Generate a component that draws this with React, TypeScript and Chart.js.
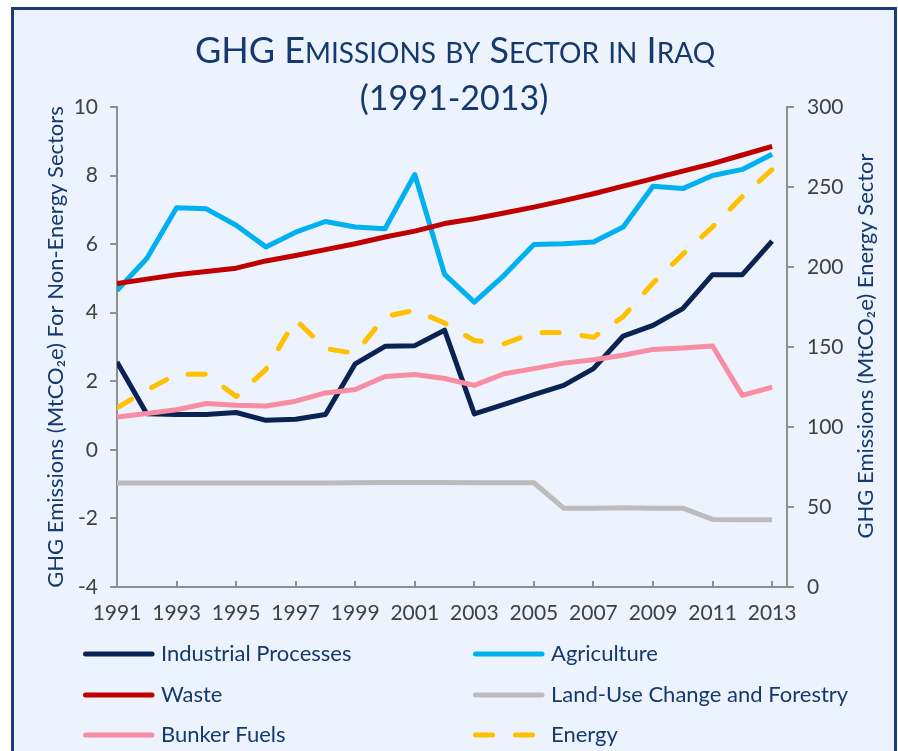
import React, { useEffect, useRef } from 'react';
import { Chart, registerables } from 'chart.js';

Chart.register(...registerables);

// ---------- data ----------
const years = [1991, 1992, 1993, 1994, 1995, 1996, 1997, 1998, 1999, 2000, 2001, 2002, 2003, 2004, 2005, 2006, 2007, 2008, 2009, 2010, 2011, 2012, 2013];
const xTickYears = [1991, 1993, 1995, 1997, 1999, 2001, 2003, 2005, 2007, 2009, 2011, 2013];

const industrialProcesses = [2.56, 1.05, 1.03, 1.03, 1.09, 0.86, 0.89, 1.03, 2.51, 3.02, 3.04, 3.49, 1.05, 1.33, 1.61, 1.88, 2.37, 3.32, 3.63, 4.12, 5.11, 5.11, 6.09];
const agriculture = [4.65, 5.58, 7.06, 7.03, 6.55, 5.92, 6.35, 6.66, 6.5, 6.45, 8.03, 5.12, 4.31, 5.09, 5.99, 6.01, 6.06, 6.5, 7.69, 7.62, 8.0, 8.18, 8.62];
const waste = [4.85, 4.98, 5.11, 5.2, 5.3, 5.51, 5.67, 5.84, 6.01, 6.21, 6.38, 6.6, 6.74, 6.91, 7.08, 7.27, 7.47, 7.69, 7.91, 8.13, 8.35, 8.6, 8.85];
const landUseChange = [-0.97, -0.97, -0.97, -0.97, -0.97, -0.97, -0.97, -0.97, -0.96, -0.95, -0.95, -0.95, -0.96, -0.96, -0.96, -1.7, -1.7, -1.69, -1.7, -1.7, -2.03, -2.04, -2.04];
const bunkerFuels = [0.96, 1.06, 1.17, 1.35, 1.3, 1.28, 1.42, 1.66, 1.76, 2.14, 2.2, 2.08, 1.88, 2.22, 2.37, 2.53, 2.63, 2.76, 2.93, 2.97, 3.03, 1.59, 1.83];
const energy = [112, 123, 133, 133, 119, 136, 167, 149, 146, 169, 173, 165, 154, 152, 159, 159, 156, 169, 190, 208, 225, 244, 261];

const leftTitle = 'GHG Emissions (MtCO\u2082e) For Non-Energy Sectors';
const rightTitle = 'GHG Emissions (MtCO\u2082e) Energy Sector';
const titleLine2 = '(1991-2013)';

// ---------- style ----------
const FONT = 'Lato, "Open Sans", sans-serif';
const NAVY = '#15386F';
const TICK = '#404040';
const AXIS = '#8F8F8F';

const seriesDefs = [
  { label: 'Industrial Processes', data: industrialProcesses, color: '#0B2352', axis: 'y', dash: [] as number[] },
  { label: 'Agriculture', data: agriculture, color: '#00B0F0', axis: 'y', dash: [] as number[] },
  { label: 'Waste', data: waste, color: '#C00000', axis: 'y', dash: [] as number[] },
  { label: 'Land-Use Change and Forestry', data: landUseChange, color: '#BDBBBB', axis: 'y', dash: [] as number[] },
  { label: 'Bunker Fuels', data: bunkerFuels, color: '#F78CA2', axis: 'y', dash: [] as number[] },
  { label: 'Energy', data: energy, color: '#FFC000', axis: 'y2', dash: [17, 23] },
];

const decorPlugin = {
  id: 'decor',
  beforeDraw(chart: any) {
    const ctx = chart.ctx;
    ctx.save();
    ctx.fillStyle = '#ffffff';
    ctx.fillRect(0, 0, chart.width, chart.height);
    ctx.fillStyle = '#ECF3FC';
    ctx.fillRect(12, 8, 884, 800);
    ctx.strokeStyle = '#1B3C78';
    ctx.lineWidth = 3;
    ctx.strokeRect(12.5, 8.5, 883, 800);
    ctx.restore();
  },
  afterDraw(chart: any) {
    const ctx = chart.ctx;
    ctx.save();
    // title with small caps
    const big = `36px ${FONT}`;
    const small = `28px ${FONT}`;
    const parts: [string, string][] = [
      ['GHG', big], [' ', big], ['E', big], ['MISSIONS', small], [' ', big], ['BY', small], [' ', big],
      ['S', big], ['ECTOR', small], [' ', big], ['IN', small], [' ', big], ['I', big], ['RAQ', small],
    ];
    let total = 0;
    const widths = parts.map(([t, f]) => { ctx.font = f; const w = ctx.measureText(t).width; total += w; return w; });
    let x = 455 - total / 2;
    ctx.fillStyle = NAVY;
    ctx.textBaseline = 'alphabetic';
    ctx.textAlign = 'left';
    parts.forEach(([t, f], i) => { ctx.font = f; ctx.fillText(t, x, 63); x += widths[i]; });
    ctx.font = `34px ${FONT}`;
    ctx.textAlign = 'center';
    ctx.fillText(titleLine2, 454, 110);

    // right axis title (reads bottom to top)
    ctx.save();
    ctx.translate(866, 346);
    ctx.rotate(-Math.PI / 2);
    ctx.font = `22px ${FONT}`;
    ctx.textAlign = 'center';
    ctx.textBaseline = 'middle';
    ctx.fillStyle = NAVY;
    ctx.fillText(rightTitle, 0, 0);
    ctx.restore();

    // legend
    const colX = [83, 473];
    const rowY = [654, 695, 735];
    chart.data.datasets.forEach((ds: any, i: number) => {
      const lx = colX[i % 2];
      const ly = rowY[Math.floor(i / 2)];
      ctx.strokeStyle = ds.borderColor;
      ctx.lineWidth = 5;
      ctx.lineCap = 'round';
      ctx.setLineDash(ds.borderDash || []);
      ctx.beginPath();
      ctx.moveTo(lx + 2.5, ly);
      ctx.lineTo(lx + 69, ly);
      ctx.stroke();
      ctx.setLineDash([]);
      ctx.fillStyle = NAVY;
      ctx.font = `22px ${FONT}`;
      ctx.textAlign = 'left';
      ctx.textBaseline = 'middle';
      ctx.fillText(ds.label, lx + 78, ly);
    });
    ctx.restore();
  },
};

export default function App() {
  const ref = useRef<HTMLCanvasElement | null>(null);
  useEffect(() => {
    if (!ref.current) return;
    const datasets = seriesDefs.map((s, i) => ({
      label: s.label,
      data: years.map((y, k) => ({ x: y, y: s.data[k] })),
      borderColor: s.color,
      backgroundColor: s.color,
      borderWidth: 5,
      borderDash: s.dash,
      borderCapStyle: s.dash.length ? 'round' : 'butt',
      borderJoinStyle: 'round',
      pointRadius: 0,
      tension: 0,
      fill: false,
      yAxisID: s.axis,
      order: seriesDefs.length - i,
    }));
    const tickFont = { family: FONT, size: 21 };
    const chart = new Chart(ref.current, {
      type: 'line',
      data: { datasets } as any,
      plugins: [decorPlugin],
      options: {
        responsive: false,
        animation: false,
        devicePixelRatio: 1,
        layout: { padding: { top: 107, left: 0, right: 0, bottom: 0 } },
        plugins: { legend: { display: false }, title: { display: false }, tooltip: { enabled: false } },
        scales: {
          x: {
            type: 'linear',
            min: 1991,
            max: 2013.5,
            afterBuildTicks: (axis: any) => { axis.ticks = xTickYears.map((v) => ({ value: v })); },
            afterFit: (s: any) => { s.height = 164; },
            grid: { drawOnChartArea: false, drawTicks: true, tickLength: -6, color: AXIS, lineWidth: 2 },
            border: { display: true, color: AXIS, width: 2 },
            ticks: { font: tickFont, color: TICK, padding: 20, maxRotation: 0, autoSkip: false, callback: (v: any) => String(v) },
          },
          y: {
            position: 'left',
            min: -4,
            max: 10,
            afterFit: (s: any) => { s.width = 117; },
            grid: { drawOnChartArea: false, drawTicks: true, tickLength: 7, color: AXIS, lineWidth: 2 },
            border: { display: true, color: AXIS, width: 2 },
            ticks: { stepSize: 2, font: tickFont, color: TICK, padding: 12 },
            title: { display: true, text: leftTitle, color: NAVY, font: { family: FONT, size: 22 }, padding: { top: 43 } },
          },
          y2: {
            position: 'right',
            min: 0,
            max: 300,
            afterFit: (s: any) => { s.width = 111; },
            grid: { drawOnChartArea: false, drawTicks: true, tickLength: 7, color: AXIS, lineWidth: 2 },
            border: { display: true, color: AXIS, width: 2 },
            ticks: { stepSize: 50, font: tickFont, color: TICK, padding: 13 },
            title: { display: false, text: rightTitle },
          },
        },
      } as any,
    });
    return () => chart.destroy();
  }, []);
  return (
    <div style={{ position: 'absolute', left: 0, top: 0, width: 898, height: 751 }}>
      <canvas ref={ref} width={898} height={751} style={{ display: 'block', width: 898, height: 751 }} />
    </div>
  );
}
